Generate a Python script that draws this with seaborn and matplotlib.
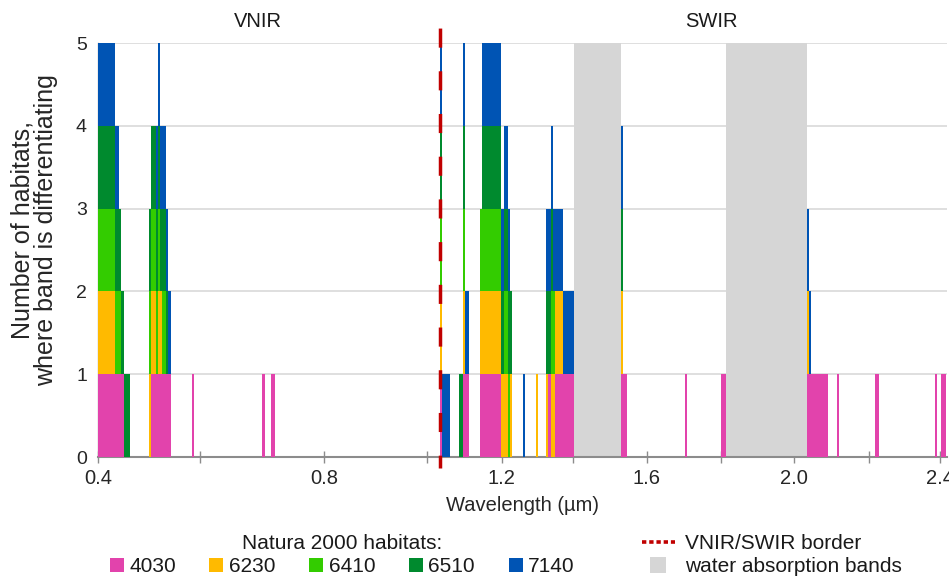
import numpy as np
import pandas as pd
import matplotlib
matplotlib.use("Agg")
import matplotlib.pyplot as plt
from matplotlib.lines import Line2D
import seaborn as sns

# Natura 2000 habitat codes and their colours
habitats = ["4030", "6230", "6410", "6510", "7140"]
habitat_colors = ["#E243AC", "#FFBA00", "#33CC00", "#008A2E", "#0054B4"]

# Differentiating bands per habitat (inclusive band-index ranges)
bands_4030 = [(0, 11), (25, 33), (44, 44), (77, 77), (81, 82), (160, 160),
              (171, 173), (179, 188), (211, 211), (214, 222), (245, 247),
              (275, 275), (292, 293), (332, 341), (346, 346), (364, 365),
              (392, 392), (395, 396)]
bands_6230 = [(0, 7), (24, 26), (28, 29), (160, 160), (171, 171), (179, 191),
              (193, 193), (205, 205), (210, 210), (212, 217), (245, 245),
              (332, 332)]
bands_6410 = [(0, 10), (24, 28), (30, 31), (160, 160), (171, 171),
              (179, 188), (190, 192), (212, 213)]
bands_6510 = [(0, 14), (24, 32), (160, 160), (169, 171), (180, 193),
              (210, 212), (245, 245)]
bands_7140 = [(0, 9), (27, 33), (160, 164), (171, 173), (180, 192),
              (199, 199), (210, 222), (245, 245), (332, 333)]

# Removed water absorption bands (inclusive band-index ranges)
water_bands = [(223, 244), (294, 331)]

# Last band of the VNIR sensor; SWIR starts with the next one
vnir_last_band = 159
n_bands = 398

# Wavelength calibration of the band index (µm -> band position)
calib_wl = [0.4, 0.6, 0.8, 1.0, 1.2, 1.4, 1.6, 1.8, 2.0, 2.2, 2.4]
calib_band = [-0.5, 47.3, 105.4, 153.6, 188.7, 222.0, 256.6, 291.3, 325.5, 360.6, 393.9]

major_wl = [0.4, 0.8, 1.2, 1.6, 2.0, 2.4]
minor_wl = [0.6, 1.0, 1.4, 1.8, 2.2]

# Long-form table: one row per (band, habitat) pair
rows = []
for code, ranges in zip(habitats, [bands_4030, bands_6230, bands_6410, bands_6510, bands_7140]):
    for a, b in ranges:
        for k in range(a, b + 1):
            rows.append((k, code))
df = pd.DataFrame(rows, columns=["band", "habitat"])

sns.set_theme(style="white")
plt.rcParams["font.family"] = ["Liberation Sans", "DejaVu Sans"]
plt.rcParams["text.color"] = "#1a1a1a"

fig = plt.figure(figsize=(9.49, 5.79), dpi=100)
ax = fig.add_axes([98 / 949, 1 - 457 / 579, 849 / 949, 414 / 579])

# Stacked count of habitats per band (first habitat at the bottom)
sns.histplot(data=df, x="band", hue="habitat", hue_order=habitats[::-1],
             palette=dict(zip(habitats, habitat_colors)), multiple="stack",
             discrete=True, shrink=1, alpha=1, linewidth=0, legend=False,
             ax=ax, zorder=3)

for a, b in water_bands:
    ax.axvspan(a - 0.5, b + 0.5, color="#D6D6D6", lw=0, zorder=2)

# VNIR/SWIR sensor border
border_x = vnir_last_band + 0.5
ax.axvline(border_x, ymin=-0.027, ymax=1.039, clip_on=False, color="#C00000",
           lw=2.5, linestyle=(1.8, (5.5, 6.8)), zorder=5)

ax.set_xlim(-0.5, n_bands - 0.8)
ax.set_ylim(0, 5)
ax.set_yticks(range(6))
ax.yaxis.grid(True, color="#D9D9D9", lw=1.2, zorder=1)
ax.xaxis.grid(False)
ax.set_axisbelow(True)

ax.set_xticks(np.interp(major_wl, calib_wl, calib_band))
ax.set_xticklabels([f"{w:.1f}" for w in major_wl])
ax.set_xticks(np.interp(minor_wl, calib_wl, calib_band), minor=True)
ax.tick_params(axis="x", which="both", direction="inout", length=9, width=1,
               color="#8c8c8c", labelsize=14.5, pad=4, bottom=True)
ax.tick_params(axis="y", length=0, labelsize=14, pad=8)

for side in ["top", "right"]:
    ax.spines[side].set_visible(False)
ax.spines["left"].set_color("#a6a6a6")
ax.spines["left"].set_linewidth(1.0)
ax.spines["bottom"].set_color("#8c8c8c")
ax.spines["bottom"].set_linewidth(1.5)

ax.set_xlabel("Wavelength (µm)", fontsize=14.5, labelpad=6)
ax.set_ylabel("Number of habitats,\nwhere band is differentiating", fontsize=18,
              linespacing=1.0)
ax.yaxis.set_label_coords(-0.047, 0.548)

ax.text(0.188, 1.051, "VNIR", transform=ax.transAxes, ha="center", va="center", fontsize=14.5)
ax.text(0.722, 1.051, "SWIR", transform=ax.transAxes, ha="center", va="center", fontsize=14.5)

# Legends below the plot
hab_handles = [Line2D([], [], marker="s", linestyle="none", markersize=10,
                      markerfacecolor=c, markeredgewidth=0) for c in habitat_colors]
leg1 = fig.legend(hab_handles, habitats, loc="center", bbox_to_anchor=(342 / 949, 0.041),
                  ncol=5, frameon=False, title="Natura 2000 habitats:",
                  fontsize=15, title_fontsize=15, handlelength=0.7,
                  handletextpad=0.25, columnspacing=1.6, borderpad=0, labelspacing=0.2)

other_handles = [Line2D([], [], color="#C00000", lw=2.6, linestyle=(0, (1.2, 0.8))),
                 Line2D([], [], marker="s", linestyle="none", markersize=12,
                        markerfacecolor="#D6D6D6", markeredgewidth=0)]
leg2 = fig.legend(other_handles, ["VNIR/SWIR border", "water absorption bands"],
                  loc="center", bbox_to_anchor=(772 / 949, 0.041), frameon=False,
                  fontsize=15, handlelength=1.6, handletextpad=0.5, labelspacing=0.2,
                  borderpad=0)

fig.savefig("out.png", dpi=100)
